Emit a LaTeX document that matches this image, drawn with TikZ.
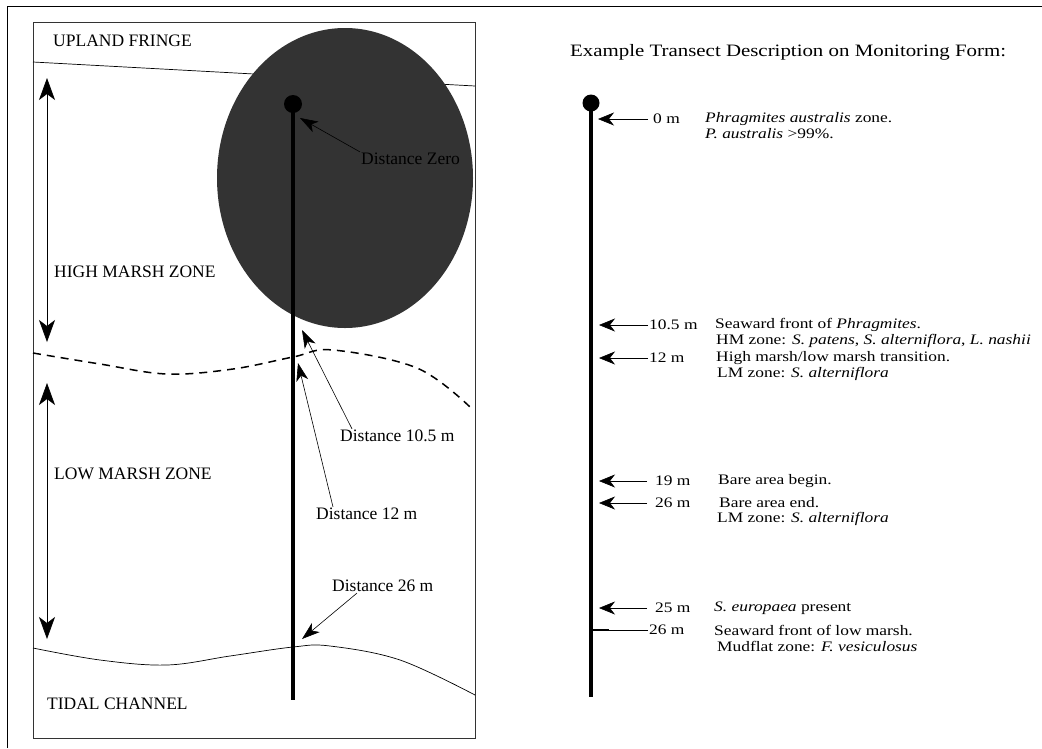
\documentclass[tikz,border=0pt]{standalone}
\usepackage{fontspec}
\setmainfont{Liberation Serif}
\newfontfamily\formfont{Liberation Serif}[FakeStretch=1.2]
\usetikzlibrary{arrows.meta}

\begin{document}
\begin{tikzpicture}[x=1pt,y=-1pt,
  zone/.style={anchor=west,inner sep=0pt,font=\fontsize{17.5}{18}\selectfont},
  dist/.style={anchor=west,inner sep=1pt,font=\fontsize{17.5}{18}\selectfont},
  meter/.style={anchor=west,inner sep=0pt,font=\formfont\fontsize{14.5}{16}\selectfont},
  desc/.style={anchor=west,inner sep=0pt,font=\formfont\fontsize{14.5}{16}\selectfont},
  bigtip/.style={{Stealth[length=22pt,width=16pt,inset=6pt]}-{Stealth[length=22pt,width=16pt,inset=6pt]}},
  disttip/.style={-{Stealth[length=18pt,width=12pt,inset=5pt]}},
  formtip/.style={-{Stealth[length=16pt,width=13pt,inset=5pt]}}]
\useasboundingbox (0,0) rectangle (1042,748);

% frame and site sketch
\draw[line width=1pt] (7,748) -- (7,6) -- (1042,6);
\draw[line width=0.8pt,black!80] (33,22) rectangle (475,738);
\draw[line width=0.7pt] (33,62) -- (475,86);
\draw[line width=1.5pt,dash pattern=on 8pt off 6pt] plot[smooth,tension=0.6] coordinates {(33,353) (100,364) (167,374) (233,369) (293,357) (333,350) (417,368) (470,407)};
\draw[line width=0.7pt] plot[smooth,tension=0.6] coordinates {(33,648) (100,660) (167,665) (230,656) (293,647) (330,646) (400,660) (475,695)};
\fill[black!80] (345,178) ellipse (128 and 150);

\node[zone] (upland) at (53,41) {UPLAND FRINGE};
\node[zone] (highmarsh) at (54,272) {HIGH MARSH ZONE};
\node[zone] (lowmarsh) at (54,474) {LOW MARSH ZONE};
\node[zone] (tidal) at (47,704) {TIDAL CHANNEL};

\coordinate (hmTop) at (47,78);
\coordinate (hmBot) at (47,342);
\coordinate (lmTop) at (47,383);
\coordinate (lmBot) at (47,639);
\draw[bigtip,line width=0.7pt] (hmTop) -- (hmBot);
\draw[bigtip,line width=0.7pt] (lmTop) -- (lmBot);

% transect in the field
\coordinate (siteStart) at (293,104);
\coordinate (siteEnd) at (293,700);
\draw[line width=4pt] (siteStart) -- (siteEnd);
\fill (siteStart) circle (9);

\coordinate (p0) at (300,118);
\coordinate (p105) at (302,330);
\coordinate (p12) at (298,363);
\coordinate (p26) at (302,639);
\node[dist] (dzero) at (360,159) {Distance Zero};
\node[dist] (d105) at (339,436) {Distance 10.5 m};
\node[dist] (d12) at (315,514) {Distance 12 m};
\node[dist] (d26) at (331,586) {Distance 26 m};
\draw[disttip,line width=0.6pt] (dzero.north west) -- (p0);
\draw[disttip,line width=0.6pt] ([xshift=13pt]d105.north west) -- (p105);
\draw[disttip,line width=0.6pt] ([xshift=18pt]d12.north west) -- (p12);
\draw[disttip,line width=0.6pt] ([xshift=26pt]d26.south west) -- (p26);

% monitoring form
\node[anchor=west,inner sep=0pt,font=\formfont\fontsize{17.4}{20}\selectfont] (title) at (570,52) {Example Transect Description on Monitoring Form:};
\coordinate (formStart) at (591,103);
\coordinate (formEnd) at (591,697);
\draw[line width=4pt] (formStart) -- (formEnd);
\fill (formStart) circle (8.5);

\coordinate (f0) at (598,119);
\coordinate (f105) at (599,325);
\coordinate (f12) at (599,358);
\coordinate (f19) at (599,481);
\coordinate (f26a) at (599,503);
\coordinate (f25) at (599,608);
\coordinate (f26b) at (593,630);

\node[meter] (m0) at (653,119) {0 m};
\node[meter] (m105) at (649,325) {10.5 m};
\node[meter] (m12) at (649,358) {12 m};
\node[meter] (m19) at (655,481) {19 m};
\node[meter] (m26a) at (655,503) {26 m};
\node[meter] (m25) at (655,608) {25 m};
\node[meter] (m26b) at (649,630) {26 m};

\draw[formtip,line width=0.6pt,shorten <=5pt] (m0.west) -- (f0);
\draw[formtip,line width=0.6pt,shorten <=1pt] (m105.west) -- (f105);
\draw[formtip,line width=0.6pt,shorten <=1pt] (m12.west) -- (f12);
\draw[formtip,line width=0.6pt,shorten <=8pt] (m19.west) -- (f19);
\draw[formtip,line width=0.6pt,shorten <=8pt] (m26a.west) -- (f26a);
\draw[formtip,line width=0.6pt,shorten <=8pt] (m25.west) -- (f25);
\draw[line width=0.6pt,shorten <=1pt] (m26b.west) -- (f26b);
\draw[line width=2pt] (f26b) -- ++(16,0);

\node[desc] (t0a) at (705,119) {\textit{Phragmites australis} zone.};
\node[desc] (t0b) at (705,134) {\textit{P. australis} >99\%.};
\node[desc] (t105a) at (715,325) {Seaward front of \textit{Phragmites}.};
\node[desc] (t105b) at (716,341) {HM zone: \textit{S. patens}, \textit{S. alterniflora}, \textit{L. nashii}};
\node[desc] (t12a) at (716,358) {High marsh/low marsh transition.};
\node[desc] (t12b) at (717,374) {LM zone: \textit{S. alterniflora}};
\node[desc] (t19) at (718,481) {Bare area begin.};
\node[desc] (t26a) at (719,503) {Bare area end.};
\node[desc] (t26b) at (717,519) {LM zone: \textit{S. alterniflora}};
\node[desc] (t25) at (714,608) {\textit{S. europaea} present};
\node[desc] (t26c) at (714,630) {Seaward front of low marsh.};
\node[desc] (t26d) at (717,646) {Mudflat zone: \textit{F. vesiculosus}};
\end{tikzpicture}
\end{document}
